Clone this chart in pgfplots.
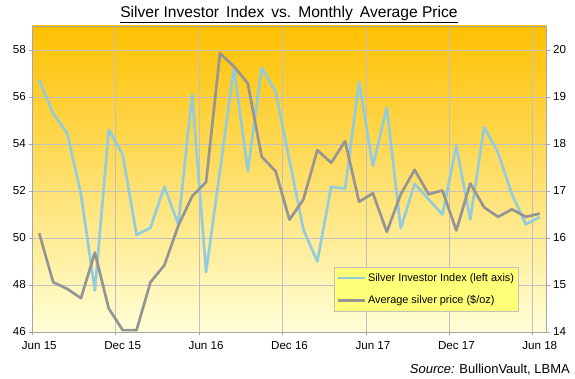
\documentclass[border=0pt]{standalone}
\usepackage{pgfplots}
\pgfplotsset{compat=1.18}
\usepackage{fontspec}
\setmainfont{Liberation Sans}
\definecolor{sblue}{HTML}{93CDDD}
\definecolor{sgray}{HTML}{959595}
\definecolor{gridc}{HTML}{C0C0C0}
\definecolor{axc}{HTML}{A6A6A6}
\begin{document}
\begin{tikzpicture}
\path[use as bounding box] (0,0) rectangle (575pt,379pt);
\fill[white] (0,0) rectangle (575pt,379pt);
\pgfplotsset{
  base/.style={
    scale only axis, width=514.4pt, height=306pt,
    at={(32.3pt,47pt)}, anchor=south west,
    xmin=0, xmax=37,
    /pgf/number format/assume math mode=true,
    tick label style={font=\fontsize{11.6}{13}\selectfont, black},
    tick align=outside, major tick length=3pt,
    tick style={axc, line width=0.8pt},
    axis line style={axc, line width=0.8pt},
  }
}
\begin{axis}[base,
  ymin=46, ymax=59.02,
  ytick={46,48,...,58},
  xtick={0,6,...,36},
  xticklabels={Jun 15, Dec 15, Jun 16, Dec 16, Jun 17, Dec 17, Jun 18},
  xticklabel style={xshift=7pt, yshift=-2.5pt},
  xtick pos=bottom, ytick pos=left,
  xmajorgrids, ymajorgrids,
  grid style={gridc, line width=0.7pt},
  axis background/.style={shade, top color={rgb,255:red,255;green,192;blue,0}, middle color={rgb,255:red,255;green,255;blue,90}, bottom color={rgb,255:red,255;green,255;blue,215}},
]
\addplot[sblue, line width=2.7pt, line join=round, mark=none] coordinates {
(0.5,56.72) (1.5,55.30) (2.5,54.48) (3.5,51.86) (4.5,47.77) (5.5,54.60)
(6.5,53.56) (7.5,50.13) (8.5,50.44) (9.5,52.18) (10.5,50.58) (11.5,56.11)
(12.5,48.55) (13.5,52.85) (14.5,57.25) (15.5,52.85) (16.5,57.25) (17.5,56.24)
(18.5,53.30) (19.5,50.36) (20.5,49.00) (21.5,52.18) (22.5,52.10) (23.5,56.64)
(24.5,53.06) (25.5,55.55) (26.5,50.41) (27.5,52.30) (28.5,51.65) (29.5,51.00)
(30.5,53.91) (31.5,50.79) (32.5,54.72) (33.5,53.63) (34.5,51.86) (35.5,50.58)
(36.5,50.89)
};
\end{axis}
\begin{axis}[base,
  ymin=14, ymax=20.51,
  ytick={14,15,...,20},
  hide x axis,
  axis y line*=right, ytick pos=right,
  legend style={at={(0.5865,0.2124)}, anchor=north west,
    fill={rgb,255:red,255;green,255;blue,120}, draw=gridc, line width=0.7pt,
    font=\fontsize{10.9}{12}\selectfont, row sep=9pt,
    inner xsep=2pt, inner ysep=4pt},
  legend cell align=left,
  legend image code/.code={\draw[#1, line width=2.7pt] (0pt,0pt) -- (27pt,0pt);},
]
\addlegendimage{sblue}
\addlegendentry{Silver Investor Index (left axis)}
\addplot[sgray, line width=2.7pt, line join=round, mark=none] coordinates {
(0.5,16.10) (1.5,15.06) (2.5,14.92) (3.5,14.72) (4.5,15.69) (5.5,14.50)
(6.5,14.04) (7.5,14.04) (8.5,15.06) (9.5,15.42) (10.5,16.26) (11.5,16.89)
(12.5,17.19) (13.5,19.93) (14.5,19.65) (15.5,19.29) (16.5,17.73) (17.5,17.42)
(18.5,16.39) (19.5,16.82) (20.5,17.87) (21.5,17.60) (22.5,18.06) (23.5,16.77)
(24.5,16.95) (25.5,16.13) (26.5,16.93) (27.5,17.45) (28.5,16.93) (29.5,17.01)
(30.5,16.16) (31.5,17.16) (32.5,16.65) (33.5,16.45) (34.5,16.61) (35.5,16.45)
(36.5,16.52)
};
\addlegendentry{Average silver price (\$/oz)}
\end{axis}
\node[anchor=base, inner sep=0pt] at (289pt,361.7pt) {\fontsize{15.6}{17}\selectfont\underline{Silver Investor\hspace{0.45em}Index\hspace{0.45em}vs.\hspace{0.45em}Monthly\hspace{0.45em}Average Price}};
\node[anchor=base east, inner sep=0pt] at (570pt,5.7pt) {\fontsize{13}{15}\selectfont\textit{Source:} BullionVault, LBMA};
\end{tikzpicture}
\end{document}
